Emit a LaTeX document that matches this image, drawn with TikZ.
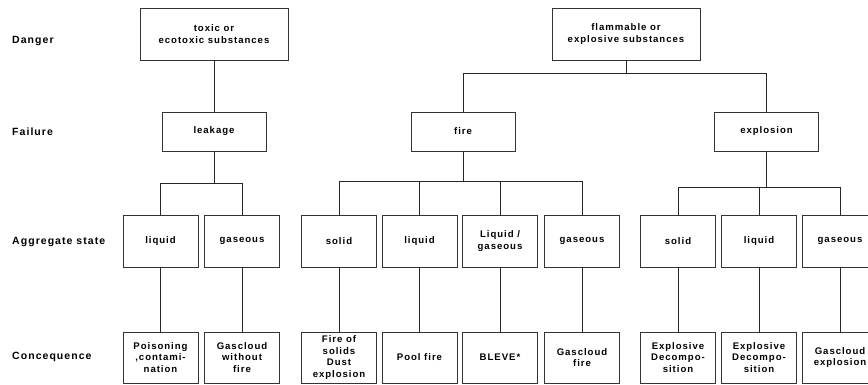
\documentclass[tikz,border=0pt]{standalone}
\usepackage{fontspec}
\setmainfont[LetterSpace=10]{Liberation Sans}
\tikzset{
  box/.style={draw=black!80, line width=0.9pt, align=center, inner sep=1pt,
    font=\bfseries\fontsize{9.6}{11.6}\selectfont},
  bigbox/.style={box, minimum width=148, minimum height=52},
  midbox/.style={box, minimum width=104, minimum height=39},
  statebox/.style={box, minimum width=75, minimum height=52},
  conbox/.style={box, minimum width=75, minimum height=51},
  rowlabel/.style={anchor=west, inner sep=0pt, font=\bfseries\fontsize{10.5}{12}\selectfont},
  wire/.style={draw=black!85, line width=0.7pt}
}
\begin{document}
\begin{tikzpicture}[x=1pt, y=-1pt]
  \useasboundingbox (0,0) rectangle (868,385);
  % row labels
  \node[rowlabel] (lDanger) at (12,41) {Danger};
  \node[rowlabel] (lFailure) at (12,132) {Failure};
  \node[rowlabel] (lState) at (12,242) {Aggregate state};
  \node[rowlabel] (lConseq) at (12,357) {Concequence};
  % danger and failure
  \node[bigbox] (toxic) at (214,34) {toxic or\\ecotoxic substances};
  \node[bigbox] (flam) at (626,34) {flammable or\\explosive substances};
  \node[midbox] (leak) at (214,131.5) {leakage};
  \node[midbox] (fire) at (463,131.5) {fire};
  \node[midbox] (expl) at (766.5,131.5) {explosion};
  % aggregate state
  \node[statebox] (tLiq) at (160.5,241) {liquid};
  \node[statebox] (tGas) at (242,241) {gaseous};
  \node[statebox] (fSolid) at (339,241) {solid};
  \node[statebox] (fLiq) at (419.5,241) {liquid};
  \node[statebox] (fBleve) at (500,241) {Liquid /\\gaseous};
  \node[statebox] (fGas) at (582,241) {gaseous};
  \node[statebox] (eSolid) at (678,241) {solid};
  \node[statebox] (eLiq) at (759,241) {liquid};
  \node[statebox] (eGas) at (840,241) {gaseous};
  % consequences
  \node[conbox] (tPois) at (160.5,357.5) {Poisoning\\,contami-\\nation};
  \node[conbox] (tCloud) at (242,357.5) {Gascloud\\without\\fire};
  \node[conbox] (fDust) at (339,357.5) {Fire of\\solids\\Dust\\explosion};
  \node[conbox] (fPool) at (419.5,357.5) {Pool fire};
  \node[conbox] (fBleveC) at (500,357.5) {BLEVE*};
  \node[conbox] (fCloud) at (582,357.5) {Gascloud\\fire};
  \node[conbox] (eDecS) at (678,357.5) {Explosive\\Decompo-\\sition};
  \node[conbox] (eDecL) at (759,357.5) {Explosive\\Decompo-\\sition};
  \node[conbox] (eCloud) at (840,357.5) {Gascloud\\explosion};
  % bus levels
  \coordinate (busTop) at (0,73);
  \coordinate (busLeak) at (0,183);
  \coordinate (busFire) at (0,181);
  \coordinate (busExpl) at (0,187);
  % connectors
  \draw[wire] (toxic) -- (leak);
  \draw[wire] (flam.south) -- (flam.south |- busTop);
  \draw[wire] (fire.north) |- (busTop -| expl.north) -- (expl.north);
  \draw[wire] (leak.south) -- (leak.south |- busLeak);
  \draw[wire] (tLiq.north) |- (busLeak -| tGas.north) -- (tGas.north);
  \draw[wire] (fire.south) -- (fire.south |- busFire);
  \draw[wire] (fSolid.north) |- (busFire -| fGas.north) -- (fGas.north);
  \foreach \n in {fLiq, fBleve}
    \draw[wire] (\n.north) -- (\n.north |- busFire);
  \draw[wire] (expl.south) -- (expl.south |- busExpl);
  \draw[wire] (eSolid.north) |- (busExpl -| eGas.north) -- (eGas.north);
  \draw[wire] (eLiq.north) -- (eLiq.north |- busExpl);
  \foreach \s/\c in {tLiq/tPois, tGas/tCloud, fSolid/fDust, fLiq/fPool,
      fBleve/fBleveC, fGas/fCloud, eSolid/eDecS, eLiq/eDecL, eGas/eCloud}
    \draw[wire] (\s) -- (\c);
\end{tikzpicture}
\end{document}
